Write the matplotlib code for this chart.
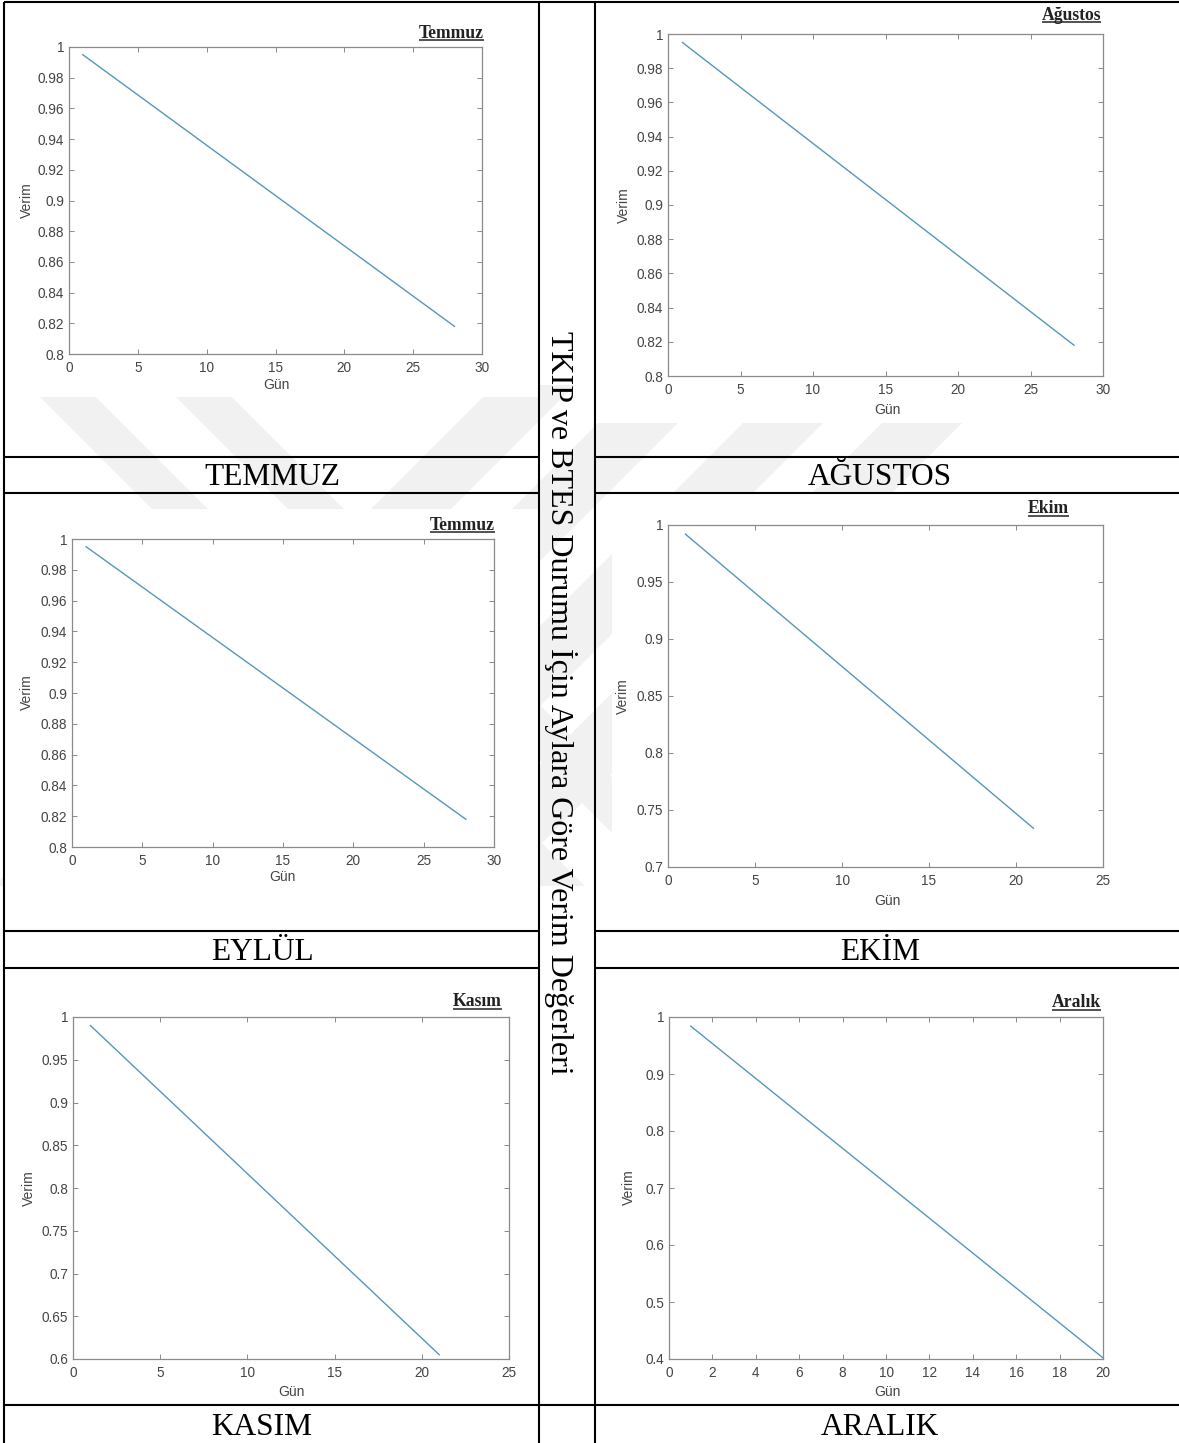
import matplotlib
matplotlib.use("Agg")
import matplotlib.pyplot as plt
from matplotlib.patches import Polygon, Rectangle
from matplotlib.ticker import FixedLocator, FuncFormatter

W, H = 1179, 1443

# ---- data ----
panel_titles = ["Temmuz", "Ağustos", "Temmuz", "Ekim", "Kasım", "Aralık"]
cell_labels = ["TEMMUZ", "AĞUSTOS", "EYLÜL", "EKİM", "KASIM", "ARALIK"]
side_title = "TKIP ve BTES Durumu İçin Aylara Göre Verim Değerleri"
x_label = "Gün"
y_label = "Verim"

temmuz_gun = [1, 28]
temmuz_verim = [0.995, 0.818]
agustos_gun = [1, 28]
agustos_verim = [0.995, 0.818]
eylul_gun = [1, 28]
eylul_verim = [0.995, 0.818]
ekim_gun = [1, 21]
ekim_verim = [0.992, 0.734]
kasim_gun = [1, 21]
kasim_verim = [0.990, 0.605]
aralik_gun = [1, 20]
aralik_verim = [0.984, 0.402]

x_ticks_30 = [0, 5, 10, 15, 20, 25, 30]
x_ticks_25 = [0, 5, 10, 15, 20, 25]
x_ticks_20 = [0, 2, 4, 6, 8, 10, 12, 14, 16, 18, 20]
y_ticks_summer = [0.8, 0.82, 0.84, 0.86, 0.88, 0.9, 0.92, 0.94, 0.96, 0.98, 1]
y_ticks_ekim = [0.7, 0.75, 0.8, 0.85, 0.9, 0.95, 1]
y_ticks_kasim = [0.6, 0.65, 0.7, 0.75, 0.8, 0.85, 0.9, 0.95, 1]
y_ticks_aralik = [0.4, 0.5, 0.6, 0.7, 0.8, 0.9, 1]

series = [
    (temmuz_gun, temmuz_verim, x_ticks_30, y_ticks_summer),
    (agustos_gun, agustos_verim, x_ticks_30, y_ticks_summer),
    (eylul_gun, eylul_verim, x_ticks_30, y_ticks_summer),
    (ekim_gun, ekim_verim, x_ticks_25, y_ticks_ekim),
    (kasim_gun, kasim_verim, x_ticks_25, y_ticks_kasim),
    (aralik_gun, aralik_verim, x_ticks_20, y_ticks_aralik),
]

# ---- page layout (pixels, y downward) ----
axes_boxes = [  # left, right, top, bottom
    (69, 482, 47, 354),
    (668, 1103, 34, 376),
    (72, 494, 539, 847),
    (668, 1103, 525, 867),
    (73, 509, 1017, 1359),
    (669, 1103, 1017, 1359),
]
title_pos = [(484, 37.5), (1101, 19.5), (495, 529.5), (1069, 513), (502, 1006), (1101, 1007)]
ylabel_pos = [(27, 200), (624, 205), (27, 692), (623, 696), (29, 1188), (629, 1187)]
xlabel_pos = [(276, 385), (887, 410), (282, 877), (887, 901), (291, 1392), (887, 1392)]
cell_label_pos = [(272, 485), (880, 485), (262, 960), (880, 960), (262, 1435), (880, 1435)]

SANS = ["Liberation Sans", "DejaVu Sans"]
SERIF = ["Liberation Serif", "DejaVu Serif"]
LINE_COLOR = "#5596bf"
AX_COLOR = "#8a8a8a"
TXT_COLOR = "#444444"

fig = plt.figure(figsize=(W / 100, H / 100), dpi=100)
fig.patch.set_facecolor("white")

# page-level canvas in pixel units
bg = fig.add_axes([0, 0, 1, 1])
bg.set_xlim(0, W)
bg.set_ylim(H, 0)
bg.axis("off")

# faint diagonal watermark bands
wm = "#f1f1f1"
for x0 in (38, 174):  # bands falling to the right
    y0, y1, w = 395, 886, 56
    bg.add_patch(Polygon([(x0, y0), (x0 + w, y0), (x0 + w + (y1 - y0), y1), (x0 + (y1 - y0), y1)],
                         closed=True, fc=wm, ec="none", zorder=0.5))
for x0 in (457, 598, 743, 882):  # bands falling to the left (x0 given at y=423)
    y0, y1, w = 385, 886, 80
    xa = x0 + (423 - y0)
    bg.add_patch(Polygon([(xa, y0), (xa + w, y0), (xa + w - (y1 - y0), y1), (xa - (y1 - y0), y1)],
                         closed=True, fc=wm, ec="none", zorder=0.5))

# white picture areas of the embedded figures
for (l, t, r, b) in [(4, 3, 539, 397), (595, 3, 1179, 423), (4, 509, 539, 888),
                     (612, 493, 1179, 931), (4, 969, 539, 1405), (595, 969, 1179, 1405)]:
    bg.add_patch(Rectangle((l, t), r - l, b - t, fc="white", ec="none", zorder=1))

# table rules
lw_tab = 1.5
def hline(y, x0, x1):
    bg.plot([x0, x1], [y, y], color="black", lw=lw_tab, zorder=3, solid_capstyle="butt")
def vline(x, y0, y1):
    bg.plot([x, x], [y0, y1], color="black", lw=lw_tab, zorder=3, solid_capstyle="butt")

hline(2, 4, W)
for y in (457, 493, 931, 968):
    hline(y, 4, 539)
    hline(y, 595, W)
hline(1405, 4, W)
vline(4, 2, H)
vline(539, 2, H)
vline(595, 2, H)

# merged side column title
bg.text(551, 703, side_title, rotation=270, rotation_mode="anchor", ha="center", va="baseline",
        fontsize=23, family=SERIF, color="black", zorder=4)

# row captions
for lab, (cx, cy) in zip(cell_labels, cell_label_pos):
    bg.text(cx, cy, lab, ha="center", va="baseline", fontsize=22.6, family=SERIF,
            color="black", zorder=4)

fmt = FuncFormatter(lambda v, p: f"{round(v, 3):g}")

title_texts = []
for i, (gun, verim, xt, yt) in enumerate(series):
    l, r, t, b = axes_boxes[i]
    ax = fig.add_axes([l / W, 1 - b / H, (r - l) / W, (b - t) / H])
    ax.plot(gun, verim, color=LINE_COLOR, lw=1.0)
    ax.set_xlim(xt[0], xt[-1])
    ax.set_ylim(yt[0], yt[-1])
    ax.xaxis.set_major_locator(FixedLocator(xt))
    ax.yaxis.set_major_locator(FixedLocator(yt))
    ax.xaxis.set_major_formatter(fmt)
    ax.yaxis.set_major_formatter(fmt)
    ax.tick_params(direction="in", length=3.5, width=0.7, color=AX_COLOR,
                   top=True, right=True, labelsize=9.8, labelcolor=TXT_COLOR)
    ax.tick_params(axis="x", pad=5)
    ax.tick_params(axis="y", pad=3.5)
    for lab in ax.get_xticklabels() + ax.get_yticklabels():
        lab.set_family(SANS)
    for s in ax.spines.values():
        s.set_color(AX_COLOR)
        s.set_linewidth(0.9)

    yx, yy = ylabel_pos[i]
    bg.text(yx, yy, y_label, rotation=90, ha="center", va="center", fontsize=10,
            family=SANS, color=TXT_COLOR, zorder=4)
    gx, gy = xlabel_pos[i]
    bg.text(gx, gy, x_label, ha="center", va="center", fontsize=10,
            family=SANS, color=TXT_COLOR, zorder=4)

    tx, ty = title_pos[i]
    tt = bg.text(tx, ty, panel_titles[i], ha="right", va="baseline", fontsize=12.7,
                 family=SERIF, weight="bold", color="#222222", zorder=4)
    title_texts.append((tt, tx, ty))

# underline the panel titles
fig.canvas.draw()
renderer = fig.canvas.get_renderer()
inv = bg.transData.inverted()
for tt, tx, ty in title_texts:
    bb = tt.get_window_extent(renderer)
    x_left = inv.transform((bb.x0, bb.y0))[0]
    bg.plot([x_left, tx], [ty + 2.6, ty + 2.6], color="#222222", lw=1.1, zorder=4,
            solid_capstyle="butt")

fig.savefig("out.png", dpi=100, facecolor="white")
